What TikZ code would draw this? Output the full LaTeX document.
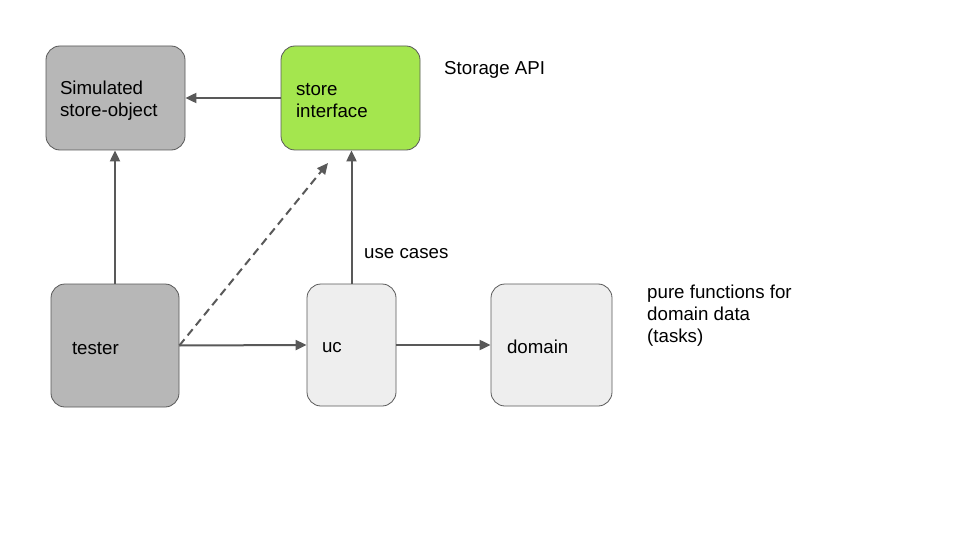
\documentclass[tikz,border=0pt]{standalone}
\usepackage{fontspec}
\setmainfont{Liberation Sans}
\usepackage{tikz}
\usetikzlibrary{arrows.meta}
\definecolor{SimGray}{HTML}{B7B7B7}
\definecolor{StoreGreen}{HTML}{A4E64E}
\definecolor{LightBox}{HTML}{EEEEEE}
\definecolor{EdgeGray}{HTML}{595959}

\begin{document}
\begin{tikzpicture}[x=1pt, y=-1pt,
    every node/.style={font=\fontsize{18.7}{22}\selectfont},
    box/.style={draw=EdgeGray, line width=0.8pt, rounded corners=14pt},
    boxtext/.style={align=left, inner sep=0pt},
    note/.style={anchor=west, align=left, inner sep=0pt},
    link/.style={draw=EdgeGray, line width=2pt,
      -{Triangle[length=11pt, width=10pt]}}]
  % Canvas
  \useasboundingbox[fill=white] (0,0) rectangle (960,540);
  % Top row: simulated store and the storage interface
  \node[box, fill=SimGray, minimum width=139pt, minimum height=104pt]
    (sim) at (115.5, 98) {};
  \node[boxtext, text width=111pt] (simtext) at ([yshift=-3pt]sim.center)
    {Simulated\\store-object};
  \node[box, fill=StoreGreen, minimum width=139pt, minimum height=104pt]
    (store) at (350.5, 98) {};
  \node[boxtext, text width=109pt] (storetext) at ([yshift=-3pt]store.center)
    {store\\interface};
  \node[note] (api) at (444, 70) {Storage API};
  % Bottom row: tester, use cases, domain
  \node[box, fill=SimGray, minimum width=128pt, minimum height=123pt]
    (tester) at (115, 345.5) {};
  \node[boxtext, text width=86pt] (testertext) at ([yshift=-3pt]tester.center)
    {tester};
  \node[box, fill=LightBox, minimum width=89pt, minimum height=122pt]
    (uc) at (351.5, 345) {};
  \node[boxtext, text width=59pt] (uctext) at ([yshift=-3pt]uc.center) {uc};
  \node[box, fill=LightBox, minimum width=121pt, minimum height=122pt]
    (domain) at (551.5, 345) {};
  \node[boxtext, text width=89pt] (domaintext) at ([yshift=-2pt]domain.center)
    {domain};
  \node[note] (usecases) at (364, 254) {use cases};
  \node[note] (pure) at (647, 316) {pure functions for\\domain data\\(tasks)};
  % Connectors
  \coordinate (dashend) at (328, 163);
  \draw[link] (store.west) -- (sim.east);
  \draw[link] (tester.north) -- (tester.north |- sim.south);
  \draw[link] (uc.north) -- (uc.north |- store.south);
  \draw[link] (tester.east) -- (uc.west);
  \draw[link] (uc.east) -- (domain.west);
  \draw[link, dash pattern=on 8pt off 5pt] (tester.east) -- (dashend);
\end{tikzpicture}
\end{document}
